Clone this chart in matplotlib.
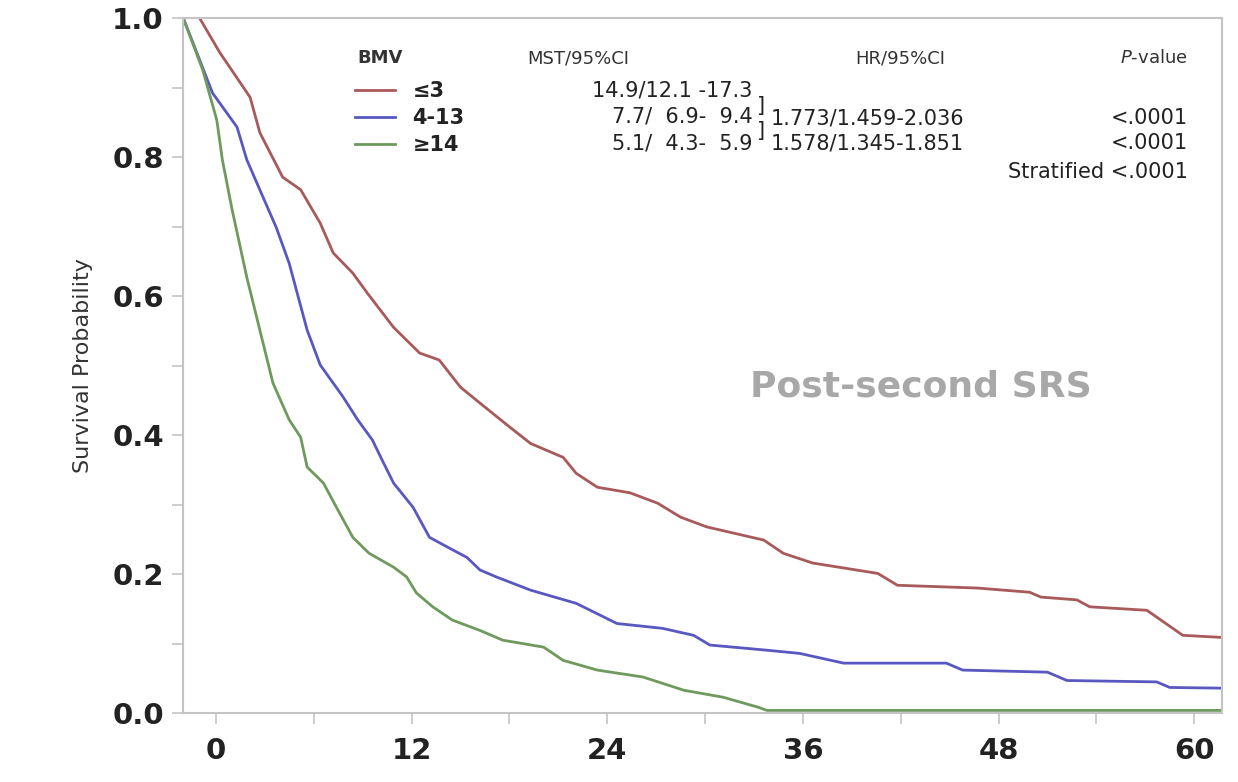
import matplotlib
matplotlib.use("Agg")
import matplotlib.pyplot as plt
from matplotlib.ticker import MultipleLocator

# survival curves (months, survival probability)
t_le3 = [-1.0, 0.25, 2.1, 2.7, 4.1, 5.2, 6.4, 7.2, 8.4, 9.3, 10.9, 12.5, 13.7, 15.0, 16.2,
         18.0, 19.3, 21.3, 22.1, 23.4, 25.4, 27.1, 28.5, 30.1, 33.6, 34.8, 36.6, 40.6, 41.8,
         46.7, 49.9, 50.6, 52.8, 53.6, 57.1, 59.3, 61.7]
s_le3 = [1.0, 0.95, 0.886, 0.835, 0.771, 0.753, 0.705, 0.662, 0.633, 0.604, 0.555, 0.518, 0.508,
         0.469, 0.446, 0.412, 0.388, 0.368, 0.345, 0.325, 0.317, 0.302, 0.282, 0.268, 0.249,
         0.230, 0.216, 0.201, 0.184, 0.180, 0.174, 0.167, 0.163, 0.153, 0.148, 0.112, 0.109]

t_4_13 = [-2.0, -0.2, 1.3, 1.9, 2.9, 3.7, 4.5, 5.6, 6.4, 7.8, 8.7, 9.6, 10.2, 10.9, 12.1, 13.1,
          14.2, 15.4, 16.2, 17.2, 19.3, 22.1, 24.6, 27.4, 29.3, 30.3, 33.6, 35.8, 38.5, 44.8,
          45.8, 51.0, 52.2, 57.7, 58.5, 61.7]
s_4_13 = [1.0, 0.892, 0.843, 0.796, 0.742, 0.699, 0.647, 0.551, 0.501, 0.455, 0.422, 0.393, 0.364,
          0.331, 0.296, 0.253, 0.239, 0.224, 0.206, 0.196, 0.177, 0.158, 0.129, 0.122, 0.112,
          0.098, 0.091, 0.086, 0.072, 0.072, 0.062, 0.059, 0.047, 0.045, 0.037, 0.036]

t_ge14 = [-2.0, -0.8, 0.06, 0.4, 1.0, 1.9, 2.7, 3.5, 4.5, 5.2, 5.6, 6.6, 7.4, 8.4, 9.4, 10.9,
          11.7, 12.3, 13.3, 14.5, 16.2, 17.6, 20.1, 21.3, 23.4, 26.2, 28.7, 31.1, 33.2, 33.8, 61.7]
s_ge14 = [1.0, 0.925, 0.853, 0.796, 0.724, 0.627, 0.551, 0.475, 0.422, 0.397, 0.354, 0.331, 0.296,
          0.253, 0.230, 0.210, 0.196, 0.173, 0.153, 0.134, 0.119, 0.105, 0.095, 0.076, 0.062,
          0.052, 0.033, 0.023, 0.009, 0.004, 0.004]

groups = ["≤3", "4-13", "≥14"]
colors = ["#a85a5a", "#5858c0", "#6e9a5e"]
mst = ["14.9/12.1 -17.3", "7.7/  6.9-  9.4", "5.1/  4.3-  5.9"]
hr = ["1.773/1.459-2.036", "1.578/1.345-1.851"]
pvals = ["<.0001", "<.0001"]

fig = plt.figure(figsize=(12.38, 7.82), dpi=100)
ax = fig.add_axes([0.148, 0.088, 0.839, 0.889])

lines = []
for t, s, c in zip([t_le3, t_4_13, t_ge14], [s_le3, s_4_13, s_ge14], colors):
    ln, = ax.plot(t, s, color=c, lw=2.0)
    lines.append(ln)

ax.set_xlim(-2, 61.7)
ax.set_ylim(0, 1.0)
ax.xaxis.set_major_locator(MultipleLocator(12))
ax.xaxis.set_minor_locator(MultipleLocator(6))
ax.yaxis.set_major_locator(MultipleLocator(0.2))
ax.yaxis.set_minor_locator(MultipleLocator(0.1))
ax.yaxis.set_major_formatter(plt.FuncFormatter(lambda v, p: f"{v:.1f}"))
for s in ax.spines.values():
    s.set_color("#c4c4c4")
    s.set_linewidth(1.5)
ax.tick_params(which="both", direction="out", length=8, width=1.2, color="#c4c4c4")
ax.tick_params(axis="x", which="major", labelsize=21, pad=9)
ax.tick_params(axis="y", which="major", labelsize=21, pad=6)
for lab in ax.get_xticklabels() + ax.get_yticklabels():
    lab.set_fontweight("bold")
    lab.set_color("#222222")

ax.set_ylabel("Survival Probability", fontsize=16, color="#333333", labelpad=14)

tr = ax.transAxes
leg = ax.legend(lines, groups, loc="upper left", bbox_to_anchor=(0.1655, 0.909),
                frameon=False, fontsize=15, handlelength=1.9, borderpad=0, borderaxespad=0,
                labelspacing=0.34, handletextpad=0.85)
for txt in leg.get_texts():
    txt.set_fontweight("bold")
    txt.set_color("#222222")

hdr = dict(fontsize=13, color="#333333", transform=tr, va="center")
val = dict(fontsize=15, color="#222222", transform=tr, va="center")
ax.text(0.168, 0.942, "BMV", ha="left", fontweight="bold", **hdr)
ax.text(0.331, 0.942, "MST/95%CI", ha="left", **hdr)
ax.text(0.647, 0.942, "HR/95%CI", ha="left", **hdr)
ax.text(0.967, 0.942, "$P$-value", ha="right", **hdr)

rows_y = [0.896, 0.858, 0.820]
for y, m in zip(rows_y, mst):
    ax.text(0.548, y, m, ha="right", **val)
for y, h, p in zip([0.856, 0.820], hr, pvals):
    ax.text(0.566, y, h, ha="left", **val)
    ax.text(0.967, y, p, ha="right", **val)
ax.text(0.552, 0.874, "]", ha="left", **val)
ax.text(0.552, 0.837, "]", ha="left", **val)
ax.text(0.967, 0.778, "Stratified <.0001", ha="right", **val)

ax.text(0.71, 0.47, "Post-second SRS", transform=tr, fontsize=26, fontweight="bold",
        color="#a8a8a8", ha="center", va="center")

fig.savefig("out.png", dpi=100)
